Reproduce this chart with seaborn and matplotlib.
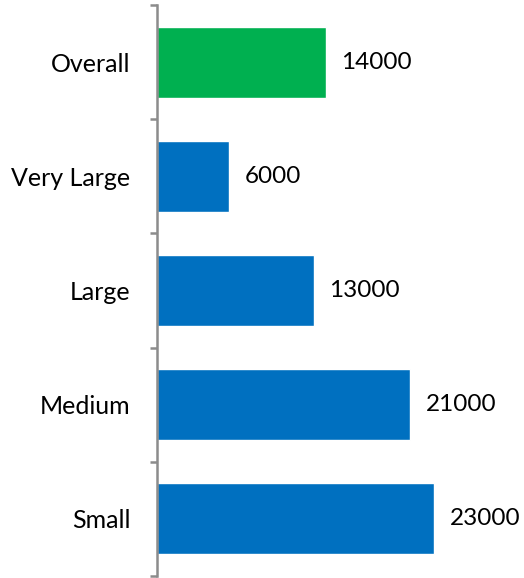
import matplotlib
matplotlib.use("Agg")
import matplotlib.pyplot as plt
import seaborn as sns
import pandas as pd

categories = ["Overall", "Very Large", "Large", "Medium", "Small"]
values = [14000, 6000, 13000, 21000, 23000]
bar_colors = ["#00B050", "#0070C0", "#0070C0", "#0070C0", "#0070C0"]

sns.set_theme(style="white")
plt.rcParams["font.family"] = ["Lato", "DejaVu Sans"]

df = pd.DataFrame({"cat": categories, "val": values})

fig = plt.figure(figsize=(5.24, 5.78), dpi=100)
ax = fig.add_axes([157 / 524, 2 / 578, 1 - 157 / 524, 571 / 578])

sns.barplot(data=df, x="val", y="cat", hue="cat", palette=bar_colors,
            order=categories, hue_order=categories, orient="h",
            width=0.62, dodge=False, legend=False, ax=ax, saturation=1)

ax.set_xlim(0, 30480)
ax.set_ylim(4.5, -0.5)
for s in ["top", "right", "bottom"]:
    ax.spines[s].set_visible(False)
ax.spines["left"].set_color("#8C8C8C")
ax.spines["left"].set_linewidth(1.8)
ax.set_xticks([])
ax.set_xlabel("")
ax.set_ylabel("")
ax.set_yticks(range(len(categories)))
ax.set_yticklabels(categories, fontsize=18, color="black")
ax.tick_params(axis="y", which="major", length=0, pad=19)
ax.set_yticks([i - 0.5 for i in range(len(categories) + 1)], minor=True)
ax.tick_params(axis="y", which="minor", length=5, width=1.8, color="#8C8C8C", left=True)

for i, v in enumerate(values):
    ax.text(v + 1300, i, f"{v}", va="center", ha="left", fontsize=17.5, color="black")

fig.savefig("out.png", dpi=100)
